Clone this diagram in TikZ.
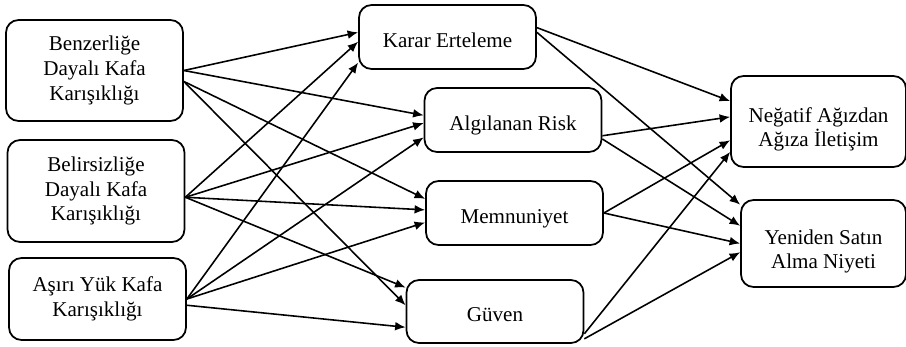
\documentclass[tikz,border=0pt]{standalone}
\usepackage{fontspec}
\setmainfont{Liberation Serif}
\usetikzlibrary{arrows.meta}
\tikzstyle{source} = [
    rectangle,
    rounded corners=0.25cm,
    minimum width=3.54cm,
    line width=1pt,
    align=center,
    draw=black
]
\tikzstyle{mediator} = [
    rectangle,
    rounded corners=0.25cm,
    minimum width=3.54cm,
    minimum height=1.28cm,
    text height=14.2pt,
    text depth=2.6pt,
    line width=1pt,
    align=center,
    draw=black
]
\tikzstyle{outcome} = [
    rectangle,
    rounded corners=0.25cm,
    text height=31.5pt,
    text depth=2.6pt,
    line width=1pt,
    align=center,
    draw=black
]
\tikzstyle{arrow} = [line width=0.9pt,->,>={Latex[length=6pt,width=5pt]}]

\begin{document}
\begin{tikzpicture}[x=0.02cm, y=-0.02cm, font=\fontsize{12}{14}\selectfont]
\useasboundingbox (0,0) rectangle (906,346);

\node (benz) [source, minimum height=2.02cm] at (94.5,70.5)
{Benzerliğe\\Dayalı Kafa\\Karışıklığı};

\node (belir) [source, minimum height=2.04cm] at (96,191)
{Belirsizliğe\\Dayalı Kafa\\Karışıklığı};

\node (asiri) [source, minimum height=1.64cm] at (97.5,299)
{Aşırı Yük Kafa\\Karışıklığı};

\node (karar) [mediator] at (447.5,37) {Karar Erteleme};

\node (risk) [mediator] at (513,120) {Algılanan Risk};

\node (memnun) [mediator] at (514.5,213) {Memnuniyet};

\node (guven) [mediator, minimum height=1.26cm] at (495,311.5) {Güven};

\node (negatif) [outcome, minimum width=3.5cm, minimum height=1.82cm] at (818.5,121.5)
{Neğatif Ağızdan\\Ağıza İletişim};

\node (yeniden) [outcome, minimum width=3.3cm, minimum height=1.74cm] at (823.5,243.5)
{Yeniden Satın\\Alma Niyeti};

\draw [arrow] (benz.east) -- (karar.177);
\draw [arrow] (benz.east) -- (risk.177);
\draw [arrow] (benz.-7) -- (memnun.171);
\draw [arrow] (benz.-7) -- (guven.176);

\draw [arrow] (belir.-4) -- (karar.183);
\draw [arrow] (belir.-4) -- (risk.182);
\draw [arrow] (belir.-4) -- (memnun.178);
\draw [arrow] (belir.-4) -- (guven.165);

\draw [arrow] (asiri.east) -- (karar.196);
\draw [arrow] (asiri.east) -- (risk.191);
\draw [arrow] (asiri.east) -- (memnun.186);
\draw [arrow] (asiri.-4) -- (guven.190);

\draw [arrow] (karar.6) -- (negatif.167);
\draw [arrow] (karar.3) -- (yeniden.155);
\draw [arrow] (risk.-10) -- (negatif.177);
\draw [arrow] (risk.-12) -- (yeniden.168);
\draw [arrow] (memnun.east) -- (negatif.192);
\draw [arrow] (memnun.east) -- (yeniden.west);
\draw [arrow] (guven.-14) -- (negatif.199);
\draw [arrow] (guven.-17) -- (yeniden.186);

\end{tikzpicture}
\end{document}
